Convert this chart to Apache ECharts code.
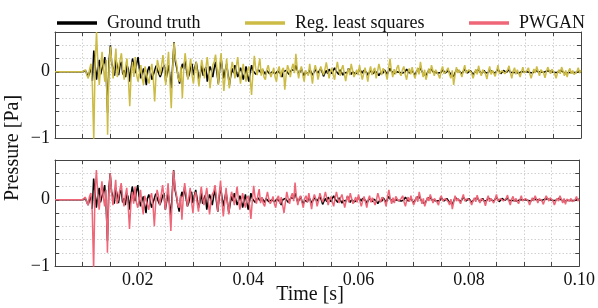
<!DOCTYPE html>
<html>
<head>
<meta charset="utf-8">
<script src="https://cdn.jsdelivr.net/npm/echarts@6/dist/echarts.min.js"></script>
<style>
html,body{margin:0;padding:0;background:#fff;}
#chart{width:598px;height:308px;}
</style>
</head>
<body>
<div id="chart"></div>
<script>
// Sampling of the traces (seconds)
const startTime = 0.005;
const sampleStep = 0.00025;

const seriesNames = ['Ground truth', 'Reg. least squares', 'PWGAN'];
const xTickLabels = ['0.02', '0.04', '0.06', '0.08', '0.10'];
const yTickLabels = ['\u22121', '0'];

const groundTruth = [
  0,0,0,0,0,0,0,0,0,0, 0,0,0,0,0,0,0,0,0,0,
  0,0, 0.02,-0.03, -0.08,0.00, 0.05,-0.14, 0.32,0.10, -0.12,0.06, 0.18,-0.04, 0.05,0.12, 0.22,-0.05, -0.62,0.15,
  0.40,0.12, 0.05,-0.06, 0.18,0.08, -0.05,0.10, 0.15,-0.04, 0.02,-0.08, 0.10,0.04, -0.15,0.05, 0.20,0.08, -0.02,0.12,
  0.22,0.04, -0.10,-0.02, 0.05,-0.08, -0.20,0.02, 0.08,0.10, -0.12,-0.05, 0.02,0.09, 0.12,-0.03, -0.08,-0.02, 0.06,0.10,
  -0.15,-0.02, 0.10,-0.06, -0.25,0.10, 0.45,0.15, 0.05,-0.08, -0.18,0.02, 0.12,0.04, 0.20,0.02, -0.10,-0.04, 0.08,0.12,
  -0.05,0.06, 0.15,0.02, -0.12,-0.04, 0.10,-0.06, 0.02,0.07, -0.15,-0.02, 0.08,0.02, -0.08,0.05, 0.15,-0.02, -0.18,0.04,
  0.20,0.04, -0.10,0.02, 0.12,-0.04, -0.20,-0.06, 0.05,-0.02, 0.10,0.01, -0.08,-0.02, 0.06,0.00, -0.12,-0.03, 0.08,-0.04,
  -0.15,-0.03, 0.10,0.02, 0.05,-0.04, -0.02,0.03, 0.06,-0.02, 0.03,0.00, -0.04,0.02, 0.05,-0.03, -0.06,0.00, 0.02,-0.03,
  -0.05,0.01, 0.04,-0.03, -0.08,0.00, -0.03,0.02, 0.05,-0.04, -0.02,0.03, 0.06,0.02, 0.10,0.03, -0.04,0.00, 0.05,-0.02,
  -0.06,-0.01, 0.02,-0.03, 0.04,0.01, -0.05,-0.01, 0.03,0.02, -0.02,-0.04, 0.05,0.00, -0.07,-0.02, 0.02,-0.03, 0.04,0.01,
  -0.03,0.02, 0.06,0.01, -0.02,-0.04, 0.03,0.00, -0.05,-0.01, 0.02,-0.02, 0.05,0.01, -0.04,0.00, 0.03,-0.03, -0.06,-0.01,
  0.04,0.01, -0.02,0.02, 0.05,-0.01, -0.05,-0.02, 0.02,0.00, -0.03,0.01, 0.04,-0.02, -0.06,-0.02, 0.01,-0.02, 0.03,0.00,
  -0.04,0.01, 0.05,0.01, -0.02,-0.03, -0.05,0.00, 0.03,-0.01, 0.01,-0.02, -0.04,0.00, 0.04,0.01, -0.02,-0.03, 0.02,-0.01,
  -0.05,-0.01, 0.03,0.02, 0.05,0.01, -0.03,-0.04, -0.06,-0.02, 0.02,0.01, 0.04,0.00, -0.02,-0.01, 0.01,-0.02, -0.05,-0.01,
  0.03,0.00, -0.02,-0.01, 0.02,-0.01, -0.04,-0.05, -0.07,-0.02, 0.03,0.02, 0.01,-0.01, -0.03,0.00, 0.04,0.01, -0.02,-0.01,
  0.02,-0.01, -0.04,-0.02, 0.01,0.02, 0.03,0.00, -0.03,-0.01, 0.02,-0.02, -0.05,-0.01, 0.03,0.01, 0.00,-0.02, -0.02,0.01,
  0.04,0.01, -0.03,-0.01, 0.02,0.00, -0.01,0.01, 0.03,-0.01, -0.04,-0.01, 0.02,-0.01, 0.01,-0.02, -0.03,0.00, 0.03,0.00,
  -0.02,0.00, 0.02,-0.01, -0.04,-0.02, 0.01,0.02, 0.03,0.00, -0.02,0.00, 0.02,-0.01, -0.03,0.01, 0.04,0.01, -0.01,0.00,
  0.02,-0.01, -0.03,-0.01, 0.01,0.02, 0.03,0.00, -0.02,-0.03, -0.04,-0.01, 0.02,-0.01, 0.01,-0.01, -0.03,-0.01, 0.02,0.01,
  0.00
];

const leastSquares = [
  0,0,0,0,0,0,0,0,0,0, 0,0,0,0,0,0,0,0,0,0,
  0,0.01, 0.03,-0.05, -0.10,0.04, 0.12,-0.20, -1.05,0.15, 0.60,0.10, -0.20,0.08, 0.30,0.05, -0.15,0.18, -0.95,0.05,
  0.38,0.15, -0.10,0.12, 0.35,-0.08, 0.05,0.18, 0.28,0.02, -0.12,0.08, 0.20,-0.10, -0.52,-0.05, 0.15,-0.08, 0.22,-0.05,
  -0.15,-0.02, 0.10,-0.10, -0.20,0.08, 0.05,-0.10, -0.18,0.02, 0.12,-0.10, -0.45,-0.05, 0.18,0.08, -0.05,0.10, 0.25,0.02,
  -0.20,0.05, 0.30,-0.15, -0.55,0.05, 0.44,0.20, 0.10,-0.10, -0.15,0.08, -0.40,0.05, 0.28,0.10, -0.12,0.05, 0.20,-0.05,
  -0.18,0.02, 0.15,-0.05, -0.22,0.00, 0.18,0.05, -0.10,0.06, 0.22,0.00, -0.25,-0.05, 0.10,0.15, 0.26,0.05, -0.20,0.10,
  0.28,-0.02, -0.29,-0.05, 0.20,-0.06, -0.25,0.00, 0.15,0.05, -0.10,0.08, 0.22,0.00, -0.18,-0.02, 0.12,-0.04, -0.15,0.02,
  0.08,-0.10, -0.35,-0.02, 0.24,0.05, -0.05,0.08, 0.20,-0.06, 0.05,-0.08, -0.12,0.03, 0.10,0.00, -0.08,-0.02, 0.06,-0.08,
  -0.15,0.02, 0.08,-0.08, 0.02,0.06, -0.27,-0.05, 0.10,0.03, -0.08,0.05, 0.12,-0.02, 0.27,0.05, -0.10,0.02, 0.08,-0.05,
  -0.15,0.02, 0.05,-0.06, 0.12,-0.03, -0.18,0.00, 0.10,0.02, -0.12,-0.02, 0.08,0.10, -0.05,0.04, 0.14,0.02, -0.10,0.00,
  0.06,-0.04, -0.12,0.03, 0.15,0.02, -0.06,0.04, 0.10,-0.03, -0.14,-0.02, 0.05,-0.05, 0.12,0.02, -0.08,-0.10, 0.03,-0.05,
  0.10,-0.02, -0.12,-0.03, 0.06,-0.04, -0.15,0.00, 0.08,-0.05, 0.02,0.06, -0.10,0.00, 0.12,0.03, -0.05,0.05, 0.08,-0.03,
  -0.12,0.05, 0.20,0.02, -0.08,0.04, -0.04,0.06, 0.10,-0.02, -0.06,0.03, 0.08,-0.04, -0.12,0.00, 0.05,-0.04, 0.07,-0.02,
  -0.10,-0.02, 0.06,-0.04, 0.15,0.02, -0.08,0.03, -0.12,-0.04, 0.05,-0.03, 0.10,0.02, -0.06,0.03, 0.04,-0.05, -0.10,0.02,
  0.08,-0.03, -0.05,0.02, 0.06,-0.04, -0.10,0.02, -0.20,-0.05, 0.07,-0.02, 0.03,0.04, -0.08,0.02, 0.10,-0.02, -0.04,0.03,
  0.06,-0.02, -0.10,-0.03, 0.04,-0.04, 0.09,0.00, -0.06,0.03, 0.05,-0.03, -0.11,0.00, 0.08,-0.04, 0.02,0.05, -0.07,0.01,
  0.10,-0.03, -0.06,0.02, 0.05,-0.03, -0.04,0.03, 0.09,-0.02, -0.10,0.01, 0.06,-0.04, 0.03,0.05, -0.08,0.00, 0.07,-0.02,
  -0.05,0.02, 0.06,-0.03, -0.10,-0.02, 0.04,-0.02, 0.08,0.01, -0.06,0.03, 0.05,-0.02, -0.09,0.00, 0.07,0.02, -0.03,0.04,
  0.05,-0.03, -0.10,-0.02, 0.03,-0.03, 0.07,0.01, -0.06,0.02, -0.08,0.01, 0.05,-0.03, 0.02,-0.04, -0.07,0.00, 0.06,-0.02,
  0.02
];

const pwgan = [
  0,0,0,0,0,0,0,0,0,0, 0,0,0,0,0,0,0,0,0,0,
  0,0.01, 0.04,-0.04, -0.08,0.05, 0.10,-0.18, -1.05,0.12, 0.45,0.08, -0.15,0.06, 0.28,0.04, -0.10,0.15, -0.80,0.08,
  0.40,0.12, -0.08,0.10, 0.30,-0.06, 0.02,0.15, 0.25,0.04, -0.10,0.06, 0.18,-0.08, -0.44,-0.06, 0.12,-0.06, 0.20,-0.04,
  -0.12,0.00, 0.15,-0.08, -0.22,0.06, 0.08,-0.08, -0.15,0.03, 0.10,-0.08, -0.40,-0.04, 0.15,0.06, -0.08,0.08, 0.22,0.04,
  -0.15,0.04, 0.25,-0.12, -0.47,0.06, 0.44,0.18, 0.08,-0.08, -0.12,0.06, -0.30,0.04, 0.25,0.08, -0.10,0.04, 0.18,-0.04,
  -0.20,0.03, 0.12,-0.04, -0.18,0.02, 0.20,0.04, -0.08,0.05, 0.18,0.01, -0.22,-0.04, 0.08,0.12, 0.22,0.04, -0.18,0.08,
  0.29,-0.02, -0.25,-0.04, 0.18,-0.05, -0.22,0.01, 0.12,0.04, -0.08,0.06, 0.20,0.00, -0.15,-0.02, 0.10,-0.03, -0.12,0.02,
  0.06,-0.08, -0.29,-0.02, 0.21,0.04, -0.06,0.06, 0.16,-0.05, 0.04,-0.06, -0.10,0.02, 0.12,0.01, -0.06,-0.02, 0.05,-0.06,
  -0.12,0.02, 0.06,-0.06, 0.04,0.05, -0.20,-0.04, 0.12,0.02, -0.06,0.04, 0.10,-0.02, 0.26,0.04, -0.08,0.02, 0.06,-0.04,
  -0.12,0.02, 0.06,-0.04, 0.10,-0.02, -0.14,0.00, 0.08,0.02, -0.10,-0.02, 0.10,0.08, -0.04,0.03, 0.12,0.02, -0.08,0.00,
  0.05,-0.03, -0.10,0.02, 0.12,0.02, -0.05,0.03, 0.08,-0.02, -0.12,-0.02, 0.06,-0.04, 0.10,0.02, -0.06,-0.08, 0.04,-0.04,
  0.08,-0.02, -0.10,-0.02, 0.05,-0.03, -0.12,0.00, 0.06,-0.04, 0.03,0.05, -0.08,0.00, 0.10,0.02, -0.04,0.04, 0.06,-0.02,
  -0.10,0.04, 0.15,0.02, -0.06,0.03, -0.05,0.05, 0.08,-0.02, -0.04,0.02, 0.06,-0.03, -0.10,0.00, 0.04,-0.03, 0.06,-0.02,
  -0.08,-0.02, 0.05,-0.03, 0.12,0.02, -0.06,0.02, -0.10,-0.03, 0.04,-0.02, 0.08,0.02, -0.05,0.02, 0.03,-0.04, -0.08,0.02,
  0.06,-0.02, -0.04,0.02, 0.05,-0.03, -0.08,0.01, -0.14,-0.04, 0.06,-0.02, 0.02,0.03, -0.06,0.02, 0.08,-0.02, -0.03,0.02,
  0.05,-0.02, -0.08,-0.02, 0.03,-0.03, 0.07,0.00, -0.05,0.02, 0.04,-0.02, -0.09,0.00, 0.06,-0.03, 0.02,0.04, -0.05,0.01,
  0.08,-0.02, -0.05,0.02, 0.04,-0.02, -0.03,0.02, 0.07,-0.02, -0.08,0.01, 0.05,-0.03, 0.02,0.04, -0.06,0.00, 0.06,-0.02,
  -0.04,0.02, 0.05,-0.02, -0.08,-0.02, 0.03,-0.02, 0.06,0.01, -0.05,0.02, 0.04,-0.02, -0.07,0.00, 0.06,0.02, -0.02,0.03,
  0.04,-0.02, -0.08,-0.02, 0.02,-0.02, 0.06,0.01, -0.05,0.02, -0.07,0.01, 0.04,-0.02, 0.02,-0.03, -0.06,0.00, 0.05,-0.02,
  0.01
];

function pairs(values) {
  return values.map((v, i) => [+(startTime + i * sampleStep).toFixed(6), v]);
}

const FONT = 'Liberation Serif, Times New Roman, serif';
const FRAME = '#444';
const GRIDC = '#c4c4c4';

function xLabel(v) {
  const k = Math.round(v / 0.02);
  if (k >= 1 && Math.abs(v - k * 0.02) < 1e-7) return xTickLabels[k - 1] || '';
  return '';
}
function yLabel(v) {
  if (Math.abs(v) < 1e-7) return yTickLabels[1];
  if (Math.abs(v + 1) < 1e-7) return yTickLabels[0];
  return '';
}

function makeX(gridIndex, pos, labels) {
  return {
    type: 'value', gridIndex: gridIndex, position: pos,
    min: 0.005, max: 0.1, interval: 0.005,
    axisLine: {show: true, onZero: false, lineStyle: {color: FRAME, width: 1}},
    axisTick: {show: true, inside: true, length: 4, lineStyle: {color: FRAME, width: 1}},
    axisLabel: {show: labels, formatter: xLabel, fontFamily: FONT, fontSize: 18, color: '#111', margin: 5},
    splitLine: {show: pos === 'bottom', lineStyle: {type: [1.5, 2], color: GRIDC, width: 0.8}}
  };
}
function makeY(gridIndex, pos, labels) {
  return {
    type: 'value', gridIndex: gridIndex, position: pos,
    min: -1, max: 0.6, interval: 0.2,
    axisLine: {show: true, onZero: false, lineStyle: {color: FRAME, width: 1}},
    axisTick: {show: true, inside: true, length: 4, lineStyle: {color: FRAME, width: 1}},
    axisLabel: {show: labels, formatter: yLabel, fontFamily: FONT, fontSize: 18, color: '#111', margin: 5},
    splitLine: {show: pos === 'left', lineStyle: {type: [1.5, 2], color: GRIDC, width: 0.8}}
  };
}

const colors = {'Ground truth': '#000000', 'Reg. least squares': '#CCBB44', 'PWGAN': '#EE6677'};

function lineSeries(name, values, axisIdx, z) {
  return {
    name: name, type: 'line', data: pairs(values),
    xAxisIndex: axisIdx, yAxisIndex: axisIdx,
    showSymbol: false, symbol: 'none', clip: true, z: z,
    lineStyle: {color: colors[name], width: 1.5},
    itemStyle: {color: colors[name]},
    animation: false
  };
}

const legendLefts = [52, 240, 464];

const chart = echarts.init(document.getElementById('chart'), null, {renderer: 'canvas'});
chart.setOption({
  animation: false,
  backgroundColor: '#fff',
  grid: [
    {left: 55, top: 32, width: 526, height: 106},
    {left: 55, top: 160, width: 526, height: 106}
  ],
  legend: seriesNames.map((n, i) => ({
    data: [n], left: legendLefts[i], top: 9,
    icon: 'rect', itemWidth: 40, itemHeight: 3.5,
    textStyle: {fontFamily: FONT, fontSize: 18, color: '#111', padding: [0, 0, 0, 5]},
    selectedMode: false
  })),
  xAxis: [makeX(0, 'bottom', false), makeX(0, 'top', false), makeX(1, 'bottom', true), makeX(1, 'top', false)],
  yAxis: [makeY(0, 'left', true), makeY(0, 'right', false), makeY(1, 'left', true), makeY(1, 'right', false)],
  series: [
    lineSeries('Ground truth', groundTruth, 0, 2),
    lineSeries('Reg. least squares', leastSquares, 0, 3),
    lineSeries('Ground truth', groundTruth, 2, 2),
    lineSeries('PWGAN', pwgan, 2, 3)
  ],
  graphic: [
    {type: 'text', x: 13, y: 148, rotation: Math.PI / 2,
      style: {text: 'Pressure [Pa]', fontFamily: FONT, fontSize: 20, fill: '#111', textAlign: 'center', textVerticalAlign: 'middle'}},
    {type: 'text', x: 310, y: 295,
      style: {text: 'Time [s]', fontFamily: FONT, fontSize: 20, fill: '#111', textAlign: 'center', textVerticalAlign: 'middle'}}
  ]
});
</script>
</body>
</html>
